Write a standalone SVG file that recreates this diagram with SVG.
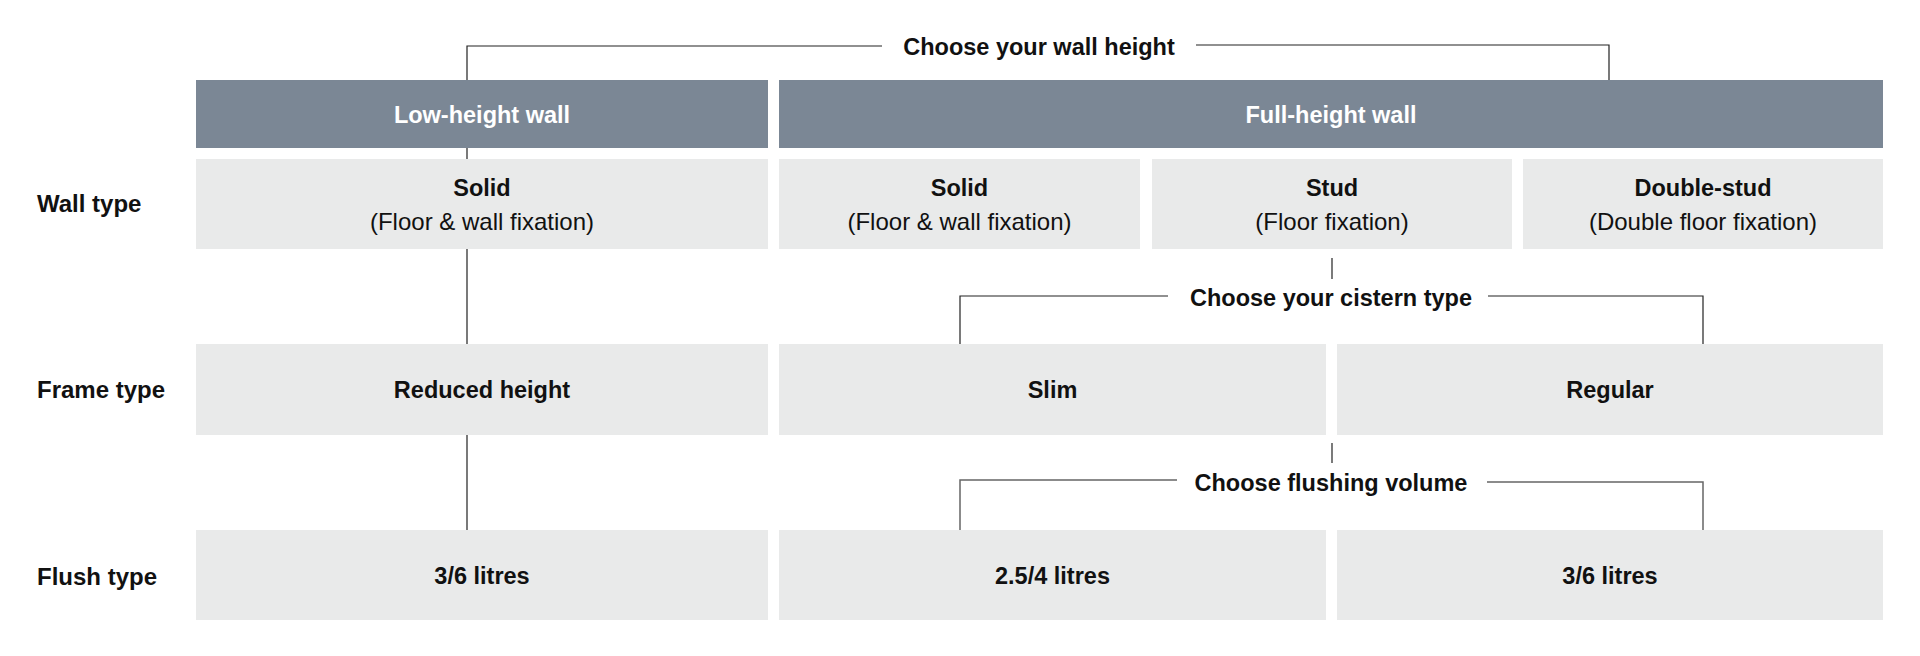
<svg xmlns="http://www.w3.org/2000/svg" width="1920" height="656" viewBox="0 0 1920 656">
<style>
.hdr{fill:#7b8795}
.box{fill:#e9eaea}
.t{font-family:"Liberation Sans",Arial,sans-serif;font-size:24px;fill:#111;text-anchor:middle}
.b{font-weight:bold;font-size:23.5px}
.w{fill:#fff}
.lbl{font-family:"Liberation Sans",Arial,sans-serif;font-size:24px;font-weight:bold;fill:#111}
.c{fill:none;stroke:#222;stroke-width:1.2}
.c2{fill:none;stroke:#666;stroke-width:1.5}
</style>
<rect width="1920" height="656" fill="#fff"/>
<g id="connectors">
<path class="c" d="M467 530 V46 H882"/>
<path class="c" d="M1196 45 H1609 V80"/>
<path class="c" d="M1332 258 V279"/>
<path class="c" d="M960 344 V296 H1168"/>
<path class="c" d="M1488 296 H1703 V344"/>
<path class="c" d="M1332 443 V463"/>
<path class="c2" d="M960 530 V480 H1177"/>
<path class="c2" d="M1487 482 H1703 V530"/>
</g>
<g id="choose-wall-height"><text class="t b" x="1039" y="55">Choose your wall height</text></g>
<g id="choose-cistern"><text class="t b" x="1331" y="306">Choose your cistern type</text></g>
<g id="choose-flushing"><text class="t b" x="1331" y="491">Choose flushing volume</text></g>
<g id="row-labels">
<text class="lbl" x="37" y="212">Wall type</text>
<text class="lbl" x="37" y="398">Frame type</text>
<text class="lbl" x="37" y="585">Flush type</text>
</g>
<g id="low-height-wall"><rect class="hdr" x="196" y="80" width="572" height="68"/><text class="t b w" x="482" y="123">Low-height wall</text></g>
<g id="full-height-wall"><rect class="hdr" x="779" y="80" width="1104" height="68"/><text class="t b w" x="1331" y="123">Full-height wall</text></g>
<g id="solid-low"><rect class="box" x="196" y="159" width="572" height="90"/><text class="t b" x="482" y="196">Solid</text><text class="t" x="482" y="230">(Floor &amp; wall fixation)</text></g>
<g id="solid-full"><rect class="box" x="779" y="159" width="361" height="90"/><text class="t b" x="959.5" y="196">Solid</text><text class="t" x="959.5" y="230">(Floor &amp; wall fixation)</text></g>
<g id="stud"><rect class="box" x="1152" y="159" width="360" height="90"/><text class="t b" x="1332" y="196">Stud</text><text class="t" x="1332" y="230">(Floor fixation)</text></g>
<g id="double-stud"><rect class="box" x="1523" y="159" width="360" height="90"/><text class="t b" x="1703" y="196">Double-stud</text><text class="t" x="1703" y="230">(Double floor fixation)</text></g>
<g id="reduced-height"><rect class="box" x="196" y="344" width="572" height="91"/><text class="t b" x="482" y="398">Reduced height</text></g>
<g id="slim"><rect class="box" x="779" y="344" width="547" height="91"/><text class="t b" x="1052.5" y="398">Slim</text></g>
<g id="regular"><rect class="box" x="1337" y="344" width="546" height="91"/><text class="t b" x="1610" y="398">Regular</text></g>
<g id="flush-low"><rect class="box" x="196" y="530" width="572" height="90"/><text class="t b" x="482" y="584">3/6 litres</text></g>
<g id="flush-slim"><rect class="box" x="779" y="530" width="547" height="90"/><text class="t b" x="1052.5" y="584">2.5/4 litres</text></g>
<g id="flush-regular"><rect class="box" x="1337" y="530" width="546" height="90"/><text class="t b" x="1610" y="584">3/6 litres</text></g>
</svg>
